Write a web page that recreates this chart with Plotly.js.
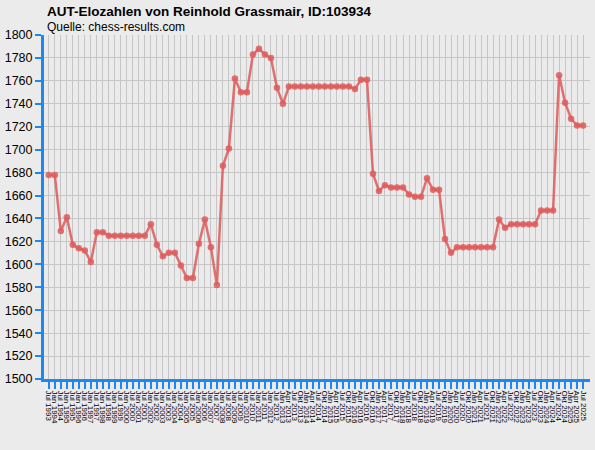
<!DOCTYPE html>
<html>
<head>
<meta charset="utf-8">
<script src="https://cdn.plot.ly/plotly-3.0.1.min.js"></script>
<style>
  html, body { margin: 0; padding: 0; background: #ebebeb; }
  #chart { width: 595px; height: 450px; }
</style>
</head>
<body>
<div id="chart"></div>
<script>
// Listen: halbjährlich bis Jul 2012, danach vierteljährlich
const listen = [
  'Jul 1993', 'Jan 1994', 'Jul 1994', 'Jan 1995', 'Jul 1995', 'Jan 1996', 'Jul 1996', 'Jan 1997',
  'Jul 1997', 'Jan 1998', 'Jul 1998', 'Jan 1999', 'Jul 1999', 'Jan 2000', 'Jul 2000', 'Jan 2001',
  'Jul 2001', 'Jan 2002', 'Jul 2002', 'Jan 2003', 'Jul 2003', 'Jan 2004', 'Jul 2004', 'Jan 2005',
  'Jul 2005', 'Jan 2006', 'Jul 2006', 'Jan 2007', 'Jul 2007', 'Jan 2008', 'Jul 2008', 'Jan 2009',
  'Jul 2009', 'Jan 2010', 'Jul 2010', 'Jan 2011', 'Jul 2011', 'Jan 2012', 'Jul 2012',
  'Jan 2013', 'Apr 2013', 'Jul 2013', 'Okt 2013', 'Jan 2014', 'Apr 2014', 'Jul 2014', 'Okt 2014',
  'Jan 2015', 'Apr 2015', 'Jul 2015', 'Okt 2015', 'Jan 2016', 'Apr 2016', 'Jul 2016', 'Okt 2016',
  'Jan 2017', 'Apr 2017', 'Jul 2017', 'Okt 2017', 'Jan 2018', 'Apr 2018', 'Jul 2018', 'Okt 2018',
  'Jan 2019', 'Apr 2019', 'Jul 2019', 'Okt 2019', 'Jan 2020', 'Apr 2020', 'Jul 2020', 'Okt 2020',
  'Jan 2021', 'Apr 2021', 'Jul 2021', 'Okt 2021', 'Jan 2022', 'Apr 2022', 'Jul 2022', 'Okt 2022',
  'Jan 2023', 'Apr 2023', 'Jul 2023', 'Okt 2023', 'Jan 2024', 'Apr 2024', 'Jul 2024', 'Okt 2024',
  'Jan 2025', 'Apr 2025', 'Jul 2025'
];

const elo = [
  1678, 1678, 1629, 1641, 1617, 1614, 1612, 1602, 1628, 1628,
  1625, 1625, 1625, 1625, 1625, 1625, 1625, 1635, 1617, 1607,
  1610, 1610, 1599, 1588, 1588, 1618, 1639, 1615, 1582, 1686,
  1701, 1762, 1750, 1750, 1783, 1788, 1783, 1780, 1754, 1740,
  1755, 1755, 1755, 1755, 1755, 1755, 1755, 1755, 1755, 1755,
  1755, 1753, 1761, 1761, 1679, 1664, 1669, 1667, 1667, 1667,
  1661, 1659, 1659, 1675, 1665, 1665, 1622, 1610, 1615, 1615,
  1615, 1615, 1615, 1615, 1615, 1639, 1632, 1635, 1635, 1635,
  1635, 1635, 1647, 1647, 1647, 1765, 1741, 1727, 1721, 1721
];

const yTicks = [1500, 1520, 1540, 1560, 1580, 1600, 1620, 1640, 1660, 1680,
                1700, 1720, 1740, 1760, 1780, 1800];

const titel = 'AUT-Elozahlen von Reinhold Grassmair, ID:103934';
const quelle = 'Quelle: chess-results.com';

const axisBlue = '#1e88f0';
const gridGrey = '#c6c6c6';
const linie = 'rgba(222,90,90,0.85)';

const trace = {
  x: listen,
  y: elo,
  type: 'scatter',
  mode: 'lines+markers',
  line: { color: linie, width: 2.5 },
  marker: { size: 6.5, color: linie },
  hoverinfo: 'x+y',
};

const layout = {
  width: 595,
  height: 450,
  margin: { t: 35, r: 5, b: 71, l: 44 },
  paper_bgcolor: '#ebebeb',
  plot_bgcolor: '#ebebeb',
  font: { family: 'Liberation Sans, Arial, sans-serif', color: '#000' },
  showlegend: false,
  xaxis: {
    type: 'category',
    range: [-0.8, 90.15],
    tickmode: 'array',
    tickvals: listen,
    ticktext: listen,
    showgrid: true,
    gridcolor: gridGrey,
    gridwidth: 1,
    showline: true,
    linecolor: axisBlue,
    linewidth: 3,
    ticks: 'outside',
    ticklen: 7,
    tickwidth: 2,
    tickcolor: axisBlue,
    tickangle: 90,
    tickfont: { size: 8, family: 'Liberation Sans, Arial, sans-serif', color: '#000' },
    zeroline: false,
    fixedrange: true,
  },
  yaxis: {
    range: [1500, 1800],
    tickvals: yTicks,
    ticktext: yTicks.map(String),
    showgrid: true,
    gridcolor: gridGrey,
    gridwidth: 1,
    showline: true,
    linecolor: axisBlue,
    linewidth: 3,
    ticks: 'outside',
    ticklen: 6,
    tickwidth: 2,
    tickcolor: axisBlue,
    tickfont: { size: 12.5, color: '#000' },
    zeroline: false,
    fixedrange: true,
  },
  annotations: [
    {
      text: '<b>' + titel + '</b>', xref: 'paper', yref: 'paper', x: 0, y: 1.067,
      xanchor: 'left', yanchor: 'middle', xshift: 1, showarrow: false,
      font: { size: 13.5, color: '#000' },
    },
    {
      text: quelle, xref: 'paper', yref: 'paper', x: 0, y: 1.023,
      xanchor: 'left', yanchor: 'middle', xshift: 1, showarrow: false,
      font: { size: 12, color: '#000' },
    },
  ],
};

Plotly.newPlot('chart', [trace], layout, { displayModeBar: false, staticPlot: true });
</script>
</body>
</html>
